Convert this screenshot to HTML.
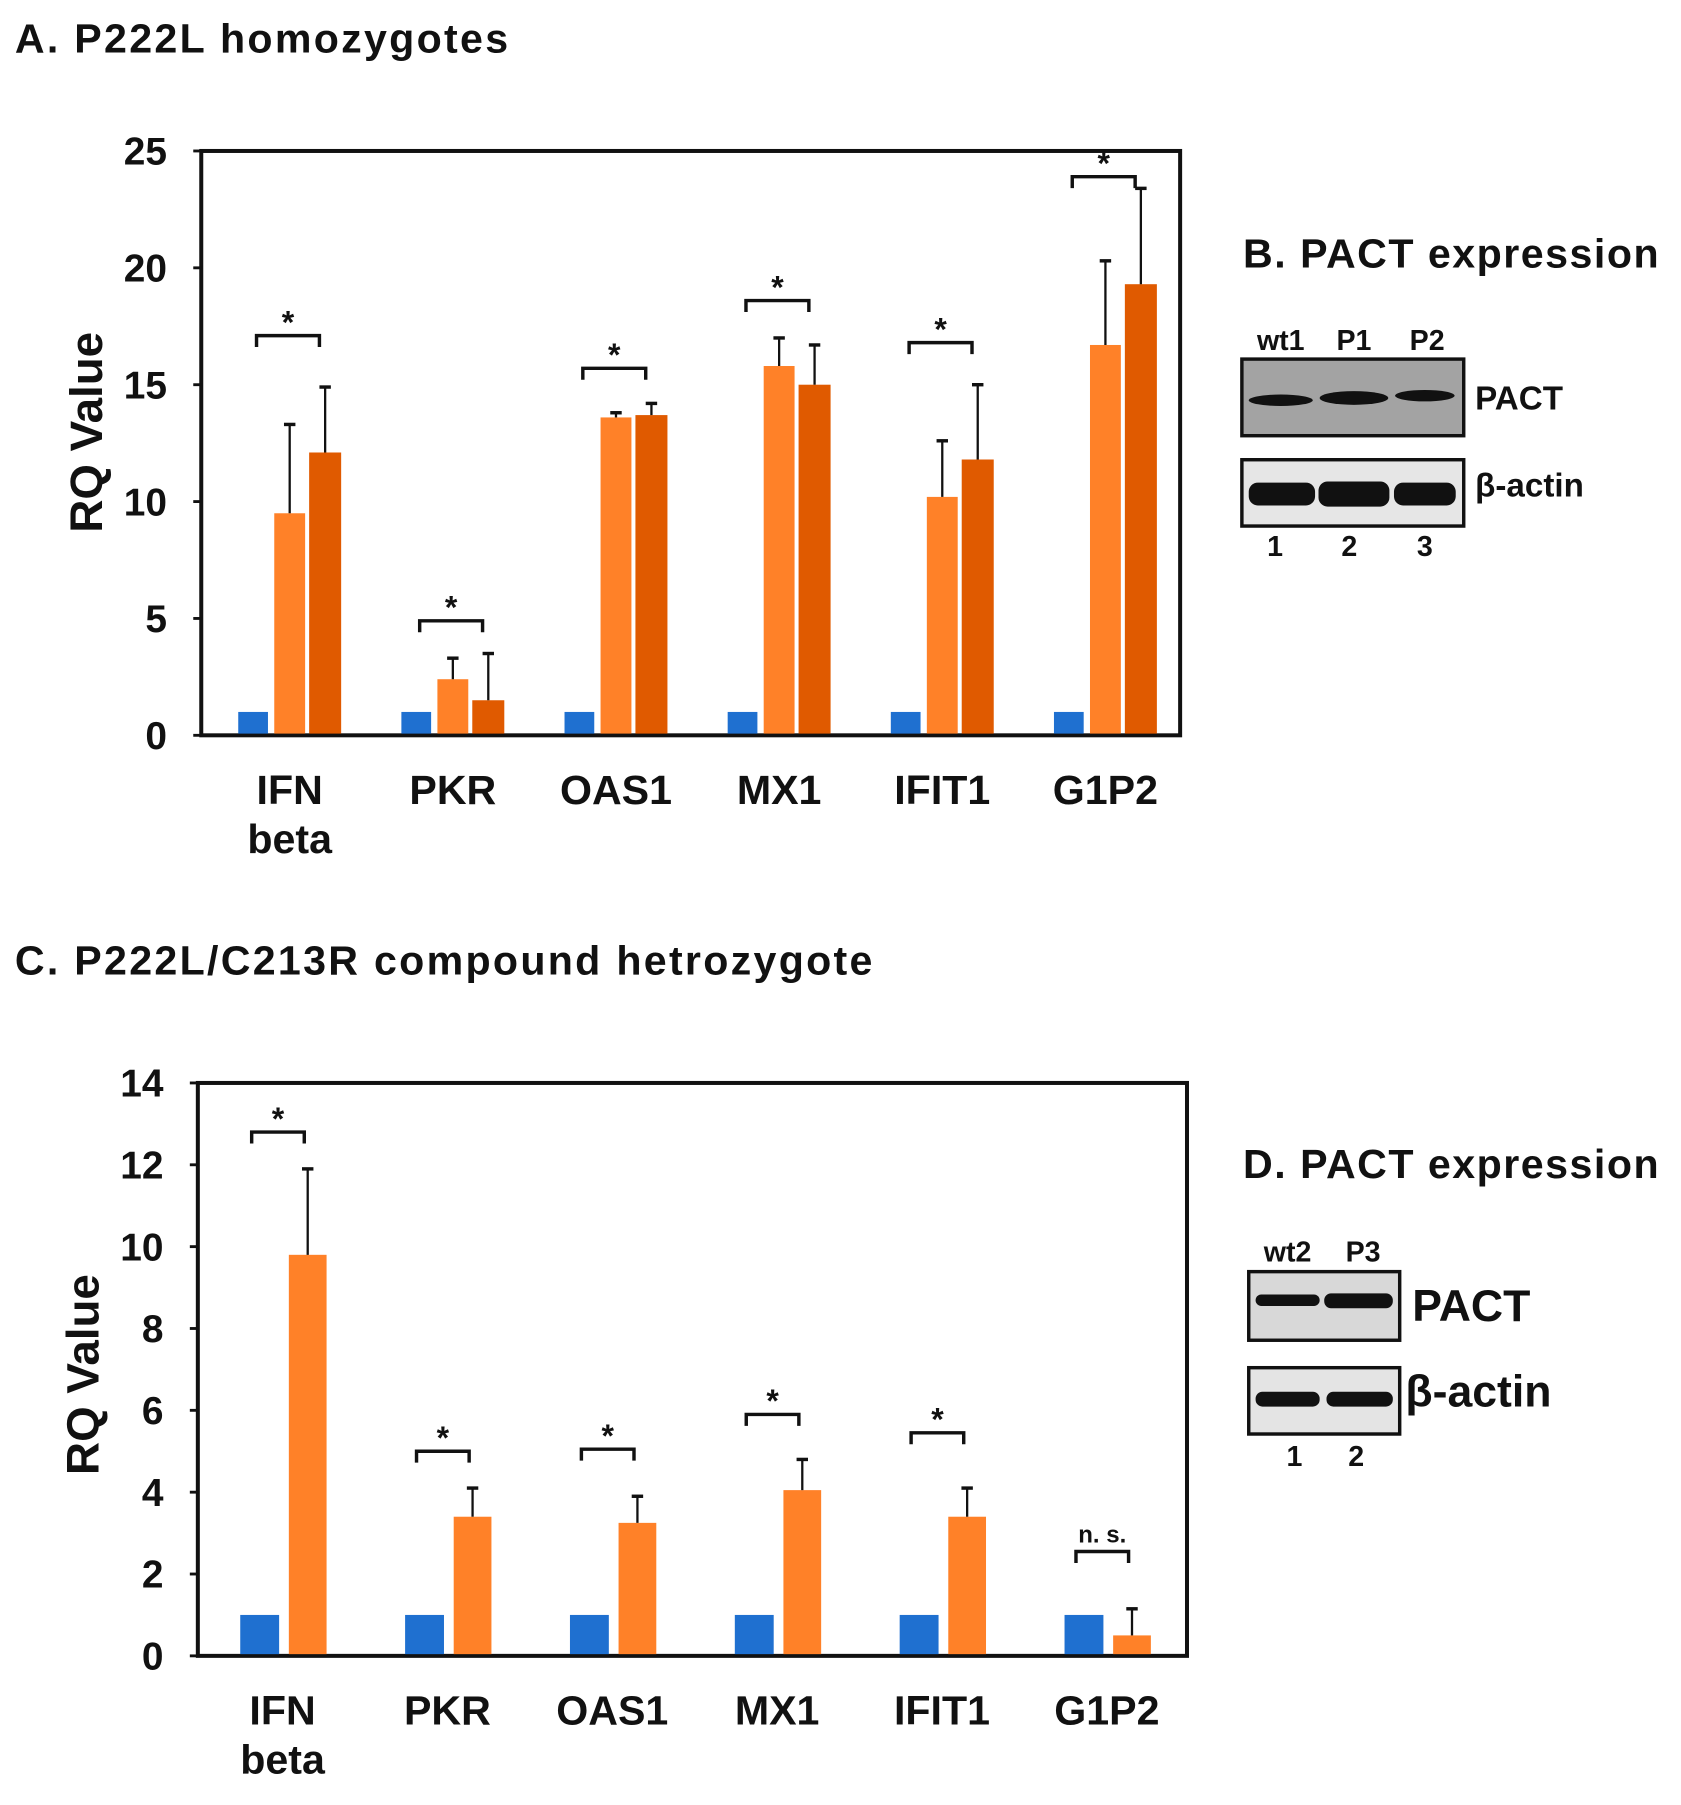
<!DOCTYPE html>
<html><head><meta charset="utf-8"><style>
html,body{margin:0;padding:0;background:#fff}
svg{display:block}
text{font-family:"Liberation Sans",Arial,sans-serif;font-weight:bold;fill:#111}
</style></head><body>
<svg id="fig" width="1681" height="1805" viewBox="0 0 1470 1578.4" xmlns="http://www.w3.org/2000/svg">
<text x="13" y="46" font-size="36" letter-spacing="2">A. P222L homozygotes</text>
<text x="13" y="852" font-size="36" letter-spacing="2">C. P222L/C213R compound hetrozygote</text>
<g id="chartA"></g>
<g id="chartC"></g>

<g>
<text x="1087" y="234" font-size="36" letter-spacing="1.3">B. PACT expression</text>
<text x="1120" y="306" font-size="25" text-anchor="middle">wt1</text>
<text x="1184" y="306" font-size="25" text-anchor="middle">P1</text>
<text x="1248" y="306" font-size="25" text-anchor="middle">P2</text>
<rect x="1086" y="314" width="194" height="67" fill="#a3a3a3" stroke="#111" stroke-width="3"/>
<ellipse cx="1120" cy="350" rx="28" ry="5" fill="#111"/>
<ellipse cx="1184" cy="348" rx="30" ry="6" fill="#111"/>
<ellipse cx="1246" cy="346" rx="26" ry="5" fill="#111"/>
<text x="1290" y="358" font-size="29">PACT</text>
<rect x="1086" y="402" width="194" height="58" fill="#e6e6e6" stroke="#111" stroke-width="3"/>
<rect x="1092" y="422" width="58" height="20" rx="8" fill="#111"/>
<rect x="1153" y="421" width="62" height="22" rx="8" fill="#111"/>
<rect x="1219" y="422" width="54" height="20" rx="8" fill="#111"/>
<text x="1290" y="434" font-size="29">β-actin</text>
<text x="1115" y="486" font-size="25" text-anchor="middle">1</text>
<text x="1180" y="486" font-size="25" text-anchor="middle">2</text>
<text x="1246" y="486" font-size="25" text-anchor="middle">3</text>
</g>

<g>
<text x="1087" y="1030" font-size="36" letter-spacing="1.3">D. PACT expression</text>
<text x="1126" y="1103" font-size="25" text-anchor="middle">wt2</text>
<text x="1192" y="1103" font-size="25" text-anchor="middle">P3</text>
<rect x="1092" y="1112" width="132" height="60" fill="#d8d8d8" stroke="#111" stroke-width="3"/>
<rect x="1098" y="1132" width="56" height="10" rx="5" fill="#111"/>
<rect x="1158" y="1131" width="60" height="13" rx="6" fill="#111"/>
<text x="1235" y="1155" font-size="39">PACT</text>
<rect x="1092" y="1196" width="132" height="58" fill="#e4e4e4" stroke="#111" stroke-width="3"/>
<rect x="1098" y="1217" width="56" height="13" rx="6" fill="#111"/>
<rect x="1160" y="1217" width="58" height="13" rx="6" fill="#111"/>
<text x="1229" y="1230" font-size="39">β-actin</text>
<text x="1132" y="1282" font-size="25" text-anchor="middle">1</text>
<text x="1186" y="1282" font-size="25" text-anchor="middle">2</text>
</g>
</svg>
<script>
const categories = ["IFN|beta","PKR","OAS1","MX1","IFIT1","G1P2"];
const aControl = [1,1,1,1,1,1];
const aP1 = [9.5,2.4,13.6,15.8,10.2,16.7];
const aP1Err = [3.8,0.9,0.2,1.2,2.4,3.6];
const aP2 = [12.1,1.5,13.7,15.0,11.8,19.3];
const aP2Err = [2.8,2.0,0.5,1.7,3.2,4.1];
const aBracket = [17.1,4.9,15.7,18.6,16.8,23.9];
const aSig = ["*","*","*","*","*","*"];
const aTicks = [0,5,10,15,20,25];
const cControl = [1,1,1,1,1,1];
const cP3 = [9.8,3.4,3.25,4.05,3.4,0.5];
const cP3Err = [2.1,0.7,0.65,0.75,0.7,0.65];
const cBracket = [12.8,5.0,5.05,5.9,5.45,2.55];
const cSig = ["*","*","*","*","*","n. s."];
const cTicks = [0,2,4,6,8,10,12,14];

const NS="http://www.w3.org/2000/svg";
function mk(p,t,a){const e=document.createElementNS(NS,t);for(const k in a)e.setAttribute(k,a[k]);p.appendChild(e);return e;}
const BLUE="#1f70d0",OR="#ff8128",DK="#e05a00";

function drawChart(g,box,ymax,ticks,series,brackets,sig,ylabelY){
  const y=v=>box.b-(v/ymax)*(box.b-box.t);
  const gw=(box.r-box.l)/categories.length;
  const cx=i=>box.l+gw*(i+0.5)-(box.off||0);
  mk(g,'rect',{x:box.l,y:box.t,width:box.r-box.l,height:box.b-box.t,fill:'none',stroke:'#111','stroke-width':3.5});
  ticks.forEach(t=>{
    const tl=mk(g,'line',{x1:box.l-7,x2:box.l,y1:y(t),y2:y(t),stroke:'#111','stroke-width':2.5});
    
    
    const tx=mk(g,'text',{x:box.l-30,y:y(t)+12,'font-size':34,'text-anchor':'end'});tx.textContent=t;
    
    
  });
  const yt=mk(g,'text',{x:0,y:0,'font-size':40,'text-anchor':'middle',transform:`translate(${box.l-87},${ylabelY}) rotate(-90)`});
  yt.textContent='RQ Value';
  
  
  categories.forEach((c,i)=>{
    const lines=c.split('|');
    lines.forEach((ln,j)=>{
      const t=mk(g,'text',{x:cx(i),y:box.b+60+j*43,'font-size':36,'text-anchor':'middle'});t.textContent=ln;
      
      
    });
    series.forEach(s=>{
      const x=cx(i)+s.dx, v=s.vals[i];
      const r=mk(g,'rect',{x:x-s.w/2,y:y(v),width:s.w,height:box.b-1.5-y(v),fill:s.color});
      
      
      if(s.err){
        const e=s.err[i];
        const l=mk(g,'line',{x1:x,x2:x,y1:y(v),y2:y(v+e),stroke:'#111','stroke-width':2});
        
        
        mk(g,'line',{x1:x-5,x2:x+5,y1:y(v+e),y2:y(v+e),stroke:'#111','stroke-width':3});
      }
    });
    const bx1=cx(i)+box.bl, bx2=cx(i)+box.br, by=y(brackets[i]);
    const br=mk(g,'path',{d:`M${bx1},${by+10}V${by}H${bx2}V${by+10}`,fill:'none',stroke:'#111','stroke-width':3});
    
    
    const st=mk(g,'text',{x:(bx1+bx2)/2,y:sig[i]==='*'?by-2:by-8,'font-size':sig[i]==='*'?28:21,'text-anchor':'middle'});
    st.textContent=sig[i];
    
    
  });
}
drawChart(document.getElementById('chartA'),{l:176,r:1032,t:132,b:643,bl:-29,br:26,off:-6},25,aTicks,
  [{vals:aControl,color:BLUE,dx:-32,w:26},{vals:aP1,err:aP1Err,color:OR,dx:0,w:27},{vals:aP2,err:aP2Err,color:DK,dx:31,w:28}],
  aBracket,aSig,378);
drawChart(document.getElementById('chartC'),{l:173,r:1038,t:947,b:1448,bl:-27,br:19,off:-2},14,cTicks,
  [{vals:cControl,color:BLUE,dx:-20,w:34},{vals:cP3,err:cP3Err,color:OR,dx:22,w:33}],
  cBracket,cSig,1202);
</script>
</body></html>
